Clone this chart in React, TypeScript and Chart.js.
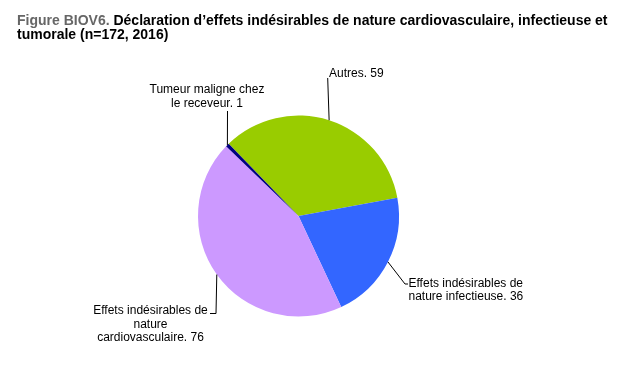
import React, { useEffect, useRef } from "react";
import { Chart, registerables } from "chart.js";

Chart.register(...registerables);

const categories = [
  "Autres",
  "Effets indésirables de nature infectieuse",
  "Effets indésirables de nature cardiovasculaire",
  "Tumeur maligne chez le receveur",
];
const values = [59, 36, 76, 1];
const labelLines = [
  ["Autres."],
  ["Effets indésirables de", "nature infectieuse."],
  ["Effets indésirables de", "nature", "cardiovasculaire."],
  ["Tumeur maligne chez", "le receveur."],
];
const colors = ["#99CC00", "#3366FF", "#CC99FF", "#000080"];
const titlePrefix = "Figure BIOV6. ";
const titleLine1 = "Déclaration d’effets indésirables de nature cardiovasculaire, infectieuse et";
const titleLine2 = "tumorale (n=172, 2016)";

// callout layout (page coordinates)
const callouts = [
  { elbow: [327.7, 78], end: null, align: "left", x: 329, ys: [74] },
  { elbow: [405, 284], end: [408, 284], align: "left", x: 408.5, ys: [283.5, 296.5] },
  { elbow: [216, 313.5], end: [210, 313.5], align: "center", x: 150.5, ys: [310.7, 324.2, 337.7] },
  { elbow: [227.5, 111], end: null, align: "center", x: 207, ys: [89.5, 103.5] },
];

const FONT = "'Liberation Sans', Arial, sans-serif";

const overlayPlugin = {
  id: "overlay",
  afterDraw(chart: any) {
    const ctx = chart.ctx as CanvasRenderingContext2D;
    ctx.save();
    // title
    ctx.textBaseline = "alphabetic";
    ctx.textAlign = "left";
    ctx.font = `bold 14px ${FONT}`;
    ctx.fillStyle = "#666666";
    ctx.fillText(titlePrefix, 17, 24.5);
    const w = ctx.measureText(titlePrefix).width;
    ctx.fillStyle = "#000000";
    ctx.fillText(titleLine1, 17 + w, 24.5);
    ctx.fillText(titleLine2, 17, 39);

    // callouts
    const meta = chart.getDatasetMeta(0);
    meta.data.forEach((arc: any, i: number) => {
      const c = callouts[i];
      const mid = (arc.startAngle + arc.endAngle) / 2;
      const px = arc.x + Math.cos(mid) * arc.outerRadius;
      const py = arc.y + Math.sin(mid) * arc.outerRadius;
      ctx.strokeStyle = "#000000";
      ctx.lineWidth = 1;
      ctx.beginPath();
      ctx.moveTo(px, py);
      ctx.lineTo(c.elbow[0], c.elbow[1]);
      if (c.end) ctx.lineTo(c.end[0], c.end[1]);
      ctx.stroke();

      const lines = labelLines[i].slice();
      lines[lines.length - 1] = `${lines[lines.length - 1]} ${values[i]}`;
      ctx.font = `12px ${FONT}`;
      ctx.fillStyle = "#000000";
      ctx.textBaseline = "middle";
      ctx.textAlign = c.align as CanvasTextAlign;
      lines.forEach((t, k) => ctx.fillText(t, c.x, c.ys[k]));
    });
    ctx.restore();
  },
};

export default function App() {
  const ref = useRef<HTMLCanvasElement | null>(null);
  useEffect(() => {
    if (!ref.current) return;
    const chart = new Chart(ref.current, {
      type: "pie",
      data: {
        labels: categories,
        datasets: [
          {
            data: values,
            backgroundColor: colors,
            borderWidth: 0,
            hoverOffset: 0,
          },
        ],
      },
      options: {
        animation: false,
        responsive: false,
        rotation: -44,
        layout: { padding: { left: 198, right: 219, top: 115.5, bottom: 62.5 } },
        plugins: {
          legend: { display: false },
          tooltip: { enabled: false },
          title: { display: false },
        },
      },
      plugins: [overlayPlugin],
    });
    return () => chart.destroy();
  }, []);
  return (
    <div style={{ position: "absolute", left: 0, top: 0, width: 618, height: 379, background: "#fff" }}>
      <canvas ref={ref} width={618} height={379} style={{ display: "block" }} />
    </div>
  );
}
